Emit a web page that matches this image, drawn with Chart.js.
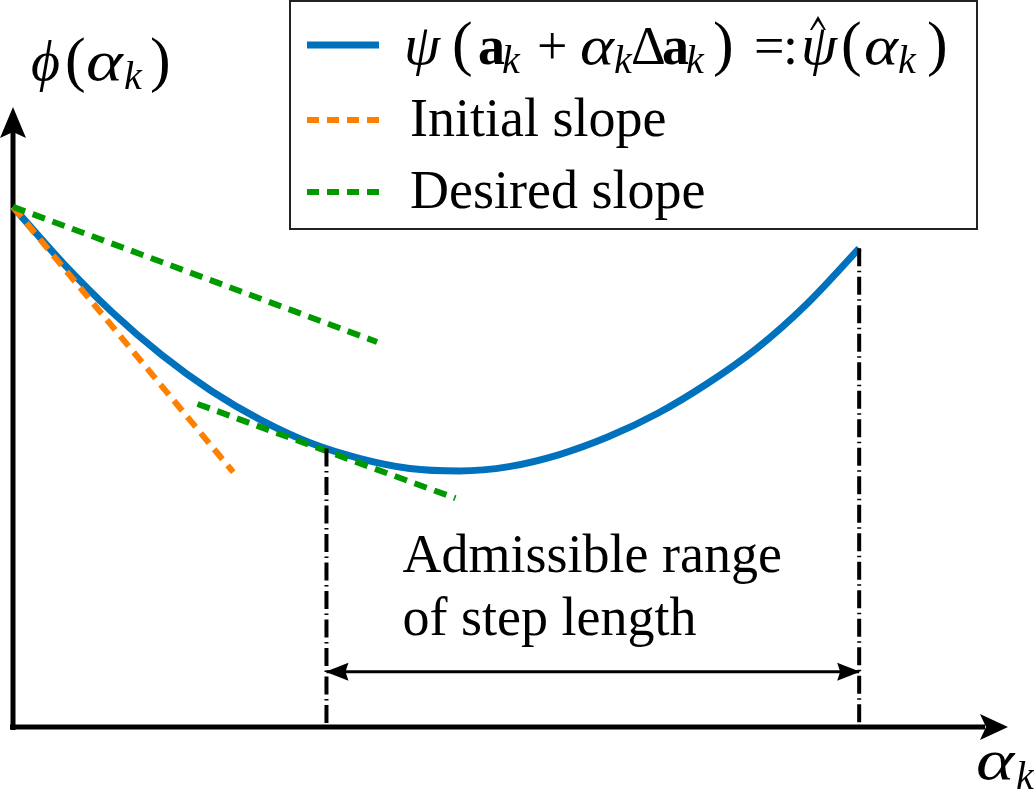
<!DOCTYPE html>
<html>
<head>
<meta charset="utf-8">
<title>Admissible step length</title>
<script src="https://cdn.jsdelivr.net/npm/chart.js@4.4.1/dist/chart.umd.min.js"></script>
<style>
    html, body { margin: 0; padding: 0; background: #fff; }
    #wrap { position: relative; width: 1034px; height: 792px; }
</style>
</head>
<body>
<div id="wrap"><canvas id="lineSearchChart"></canvas></div>
<script>
// step length alpha_k against phi(alpha_k) (axes run 0..10)
const alpha = [0, 0.5, 1, 1.5, 2, 2.5, 3, 3.5, 4, 4.5, 5, 5.5, 6, 6.5, 7, 7.5, 8, 8.53];
const phi = [8.39, 7.49, 6.69, 6.00, 5.42, 4.95, 4.58, 4.33, 4.17, 4.13, 4.20, 4.39, 4.68, 5.06, 5.54, 6.11, 6.82, 7.72];

const initialSlopeX = [0, 2.22];
const initialSlopeY = [8.39, 4.11];
const desiredSlopeX = [0, 3.67];
const desiredSlopeY = [8.39, 6.21];
const tangentX = [1.86, 4.46];
const tangentY = [5.21, 3.69];

// admissible range: alpha where the curve meets the desired slope, and the end of the curve
const rangeAlpha = [3.16, 8.53];
const rangePhi = [4.49, 7.72];
const rangeArrowY = 0.89;

const rangeText = ['Admissible range', 'of step length'];
const legendLabels = ['', 'Initial slope', 'Desired slope'];

const BLUE = '#0072BD';
const ORANGE = '#FF8000';
const GREEN = '#009A00';
const SERIF = '"Liberation Serif", "DejaVu Serif", serif';
const FS = 54;

const roman = FS + 'px ' + SERIF;
const italic = 'italic ' + FS + 'px ' + SERIF;
const bold = 'bold ' + FS + 'px ' + SERIF;
const sub = 'italic 40px ' + SERIF;
const paren = '62px ' + SERIF;
const bigItalic = 'italic 58px ' + SERIF;

// psi(a_k + alpha_k Delta a_k) =: psi-hat(alpha_k), x = offset of each glyph
const psiLabel = [
    { t: '\u03C8', f: bigItalic, x: 0 },
    { t: '(', f: paren, x: 48 },
    { t: 'a', f: bold, x: 74 },
    { t: 'k', f: sub, x: 98, sub: 9 },
    { t: '+', f: roman, x: 133 },
    { t: '\u03B1', f: italic, x: 176, sx: 1.2 },
    { t: 'k', f: sub, x: 210, sub: 9 },
    { t: '\u0394', f: roman, x: 227 },
    { t: 'a', f: bold, x: 258 },
    { t: 'k', f: sub, x: 282, sub: 9 },
    { t: ')', f: paren, x: 309 },
    { t: '=', f: roman, x: 350 },
    { t: ':', f: roman, x: 379 },
    { t: '\u03C8', f: bigItalic, x: 397, hat: true },
    { t: '(', f: paren, x: 437 },
    { t: '\u03B1', f: italic, x: 460, sx: 1.2 },
    { t: 'k', f: sub, x: 494, sub: 9 },
    { t: ')', f: paren, x: 523 }
];
const yLabel = [
    { t: '\u03D5', f: 'italic 56px ' + SERIF, x: 0 },
    { t: '(', f: paren, x: 34 },
    { t: '\u03B1', f: 'italic 56px ' + SERIF, x: 55, sx: 1.25 },
    { t: 'k', f: sub, x: 93, sub: 9 },
    { t: ')', f: paren, x: 119 }
];
const xLabel = [
    { t: '\u03B1', f: 'italic 56px ' + SERIF, x: 0, sx: 1.3 },
    { t: 'k', f: sub, x: 40, sub: 10 }
];

function pts(xs, ys) {
    return xs.map((x, i) => ({ x: x, y: ys[i] }));
}

function drawRich(ctx, parts, x0, y) {
    ctx.textBaseline = 'alphabetic';
    ctx.textAlign = 'left';
    parts.forEach(p => {
        const x = x0 + p.x;
        const yy = y + (p.sub || 0);
        ctx.font = p.f;
        if (p.sx) {
            ctx.save();
            ctx.translate(x, yy);
            ctx.scale(p.sx, 1);
            ctx.fillText(p.t, 0, 0);
            ctx.restore();
        } else {
            ctx.fillText(p.t, x, yy);
        }
        if (p.hat) {
            // circumflex as a small wedge
            ctx.beginPath();
            ctx.moveTo(x + 9, y - 34);
            ctx.lineTo(x + 17, y - 48);
            ctx.lineTo(x + 25, y - 34);
            ctx.lineTo(x + 23, y - 34);
            ctx.lineTo(x + 17, y - 43);
            ctx.lineTo(x + 11, y - 34);
            ctx.closePath();
            ctx.fill();
        }
    });
}

function arrowHead(ctx, tipX, tipY, dirX, dirY, len, half, notch) {
    const nx = -dirY, ny = dirX;
    ctx.beginPath();
    ctx.moveTo(tipX, tipY);
    ctx.lineTo(tipX - dirX * len + nx * half, tipY - dirY * len + ny * half);
    ctx.lineTo(tipX - dirX * (len - notch), tipY - dirY * (len - notch));
    ctx.lineTo(tipX - dirX * len - nx * half, tipY - dirY * len - ny * half);
    ctx.closePath();
    ctx.fill();
}

const sketchPlugin = {
    id: 'sketch',
    beforeDatasetsDraw(chart) {
        const ctx = chart.ctx;
        const area = chart.chartArea;
        ctx.save();
        ctx.strokeStyle = '#000';
        ctx.fillStyle = '#000';
        ctx.lineWidth = 5;
        ctx.beginPath();
        ctx.moveTo(area.left, area.bottom + 3);
        ctx.lineTo(area.left, area.top + 25);
        ctx.moveTo(area.left - 3, area.bottom);
        ctx.lineTo(area.right - 20, area.bottom);
        ctx.stroke();
        arrowHead(ctx, area.left, area.top, 0, -1, 31, 13, 6);
        arrowHead(ctx, area.right + 3, area.bottom, 1, 0, 28, 13, 6);
        ctx.restore();
    },
    afterDatasetsDraw(chart) {
        const ctx = chart.ctx;
        const xs = chart.scales.x;
        const ys = chart.scales.y;
        ctx.save();
        ctx.fillStyle = '#000';

        // heads of the admissible range arrow
        const ay = ys.getPixelForValue(rangeArrowY);
        const a0 = xs.getPixelForValue(rangeAlpha[0]);
        const a1 = xs.getPixelForValue(rangeAlpha[1]);
        arrowHead(ctx, a0 - 1, ay, -1, 0, 23, 9, 3);
        arrowHead(ctx, a1 + 1, ay, 1, 0, 23, 9, 3);

        ctx.font = roman;
        ctx.textBaseline = 'alphabetic';
        ctx.fillText(rangeText[0], a0 + 76, 572);
        ctx.fillText(rangeText[1], a0 + 76, 635);

        drawRich(ctx, yLabel, 31, 80);
        drawRich(ctx, xLabel, 976, 779);

        // legend
        ctx.lineWidth = 2;
        ctx.strokeStyle = '#222';
        ctx.strokeRect(290, 1, 687, 228);

        const rows = [45, 120, 192];
        const colors = [BLUE, ORANGE, GREEN];
        ctx.lineCap = 'butt';
        rows.forEach((ry, i) => {
            ctx.beginPath();
            ctx.strokeStyle = colors[i];
            ctx.lineWidth = i === 0 ? 7 : 6;
            ctx.setLineDash(i === 0 ? [] : [12, 8]);
            ctx.moveTo(307, ry);
            ctx.lineTo(379, ry);
            ctx.stroke();
        });
        ctx.setLineDash([]);
        ctx.fillStyle = '#000';
        drawRich(ctx, psiLabel, 404, 64);
        ctx.font = roman;
        ctx.fillText(legendLabels[1], 410, 136);
        ctx.fillText(legendLabels[2], 410, 208);
        ctx.restore();
    }
};

const dashDot = [18, 4.5, 1.5, 4.5];

new Chart(document.getElementById('lineSearchChart'), {
    type: 'line',
    data: {
        datasets: [
            {
                label: 'arrow',
                data: pts(rangeAlpha, [rangeArrowY, rangeArrowY]),
                borderColor: '#000',
                borderWidth: 3,
                order: 0
            },
            {
                label: 'range start',
                data: pts([rangeAlpha[0], rangeAlpha[0]], [rangePhi[0], 0]),
                borderColor: '#000',
                borderWidth: 4,
                borderDash: dashDot,
                order: 1
            },
            {
                label: 'range end',
                data: pts([rangeAlpha[1], rangeAlpha[1]], [rangePhi[1], 0]),
                borderColor: '#000',
                borderWidth: 4,
                borderDash: dashDot,
                order: 1
            },
            {
                label: 'Desired slope',
                data: pts(desiredSlopeX, desiredSlopeY),
                borderColor: GREEN,
                borderWidth: 6,
                borderDash: [13, 8],
                order: 2
            },
            {
                label: 'Desired slope (tangent)',
                data: pts(tangentX, tangentY),
                borderColor: GREEN,
                borderWidth: 6,
                borderDash: [13, 8],
                order: 2
            },
            {
                label: 'Initial slope',
                data: pts(initialSlopeX, initialSlopeY),
                borderColor: ORANGE,
                borderWidth: 6,
                borderDash: [13, 8],
                order: 3
            },
            {
                label: 'psi',
                data: pts(alpha, phi),
                borderColor: BLUE,
                borderWidth: 7,
                cubicInterpolationMode: 'monotone',
                order: 4
            }
        ]
    },
    options: {
        responsive: true,
        maintainAspectRatio: false,
        animation: false,
        events: [],
        layout: {
            autoPadding: false,
            padding: { left: 13, right: 29, top: 107, bottom: 65 }
        },
        datasets: {
            line: { clip: false, pointRadius: 0, fill: false, borderCapStyle: 'butt' }
        },
        scales: {
            x: { type: 'linear', min: 0, max: 10, display: false },
            y: { type: 'linear', min: 0, max: 10, display: false }
        },
        plugins: {
            legend: { display: false },
            tooltip: { enabled: false }
        }
    },
    plugins: [sketchPlugin]
});
</script>
</body>
</html>
